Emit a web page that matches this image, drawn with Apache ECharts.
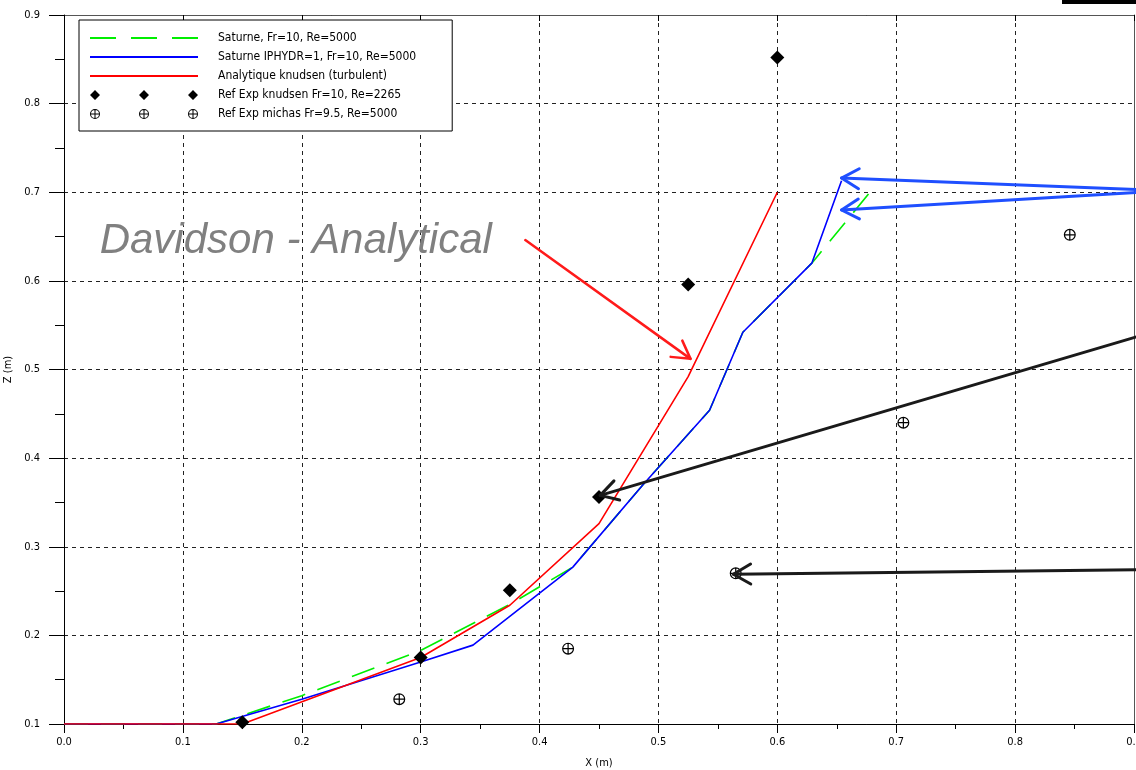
<!DOCTYPE html>
<html>
<head>
<meta charset="utf-8">
<style>
  html, body { margin: 0; padding: 0; background: #fff; }
  #chart { width: 1136px; height: 770px; }
</style>
<script src="https://cdn.jsdelivr.net/npm/echarts@6.0.0/dist/echarts.min.js"></script>
</head>
<body>
<div id="chart"></div>
<script>
// axis ticks
var xTicks = [0, 0.1, 0.2, 0.3, 0.4, 0.5, 0.6, 0.7, 0.8, 0.9]
var zTicks = [0.1, 0.2, 0.3, 0.4, 0.5, 0.6, 0.7, 0.8, 0.9]

// Saturne, Fr=10, Re=5000 (green dashed)
var saturneX = [0, 0.128, 0.2, 0.3, 0.375, 0.428, 0.487, 0.543, 0.571, 0.629, 0.681]
var saturneZ = [0.1, 0.1, 0.132, 0.183, 0.235, 0.277, 0.37, 0.454, 0.542, 0.62, 0.705]

// Saturne IPHYDR=1 (blue)
var iphydrX = [0, 0.128, 0.2, 0.3, 0.344, 0.428, 0.487, 0.543, 0.571, 0.629, 0.654]
var iphydrZ = [0.1, 0.1, 0.128, 0.17, 0.189, 0.277, 0.37, 0.454, 0.542, 0.62, 0.713]

// Analytique knudsen (red)
var analX = [0, 0.15, 0.3, 0.375, 0.45, 0.525, 0.6]
var analZ = [0.1, 0.1, 0.175, 0.234, 0.326, 0.492, 0.7]

// Ref Exp knudsen Fr=10, Re=2265 (diamonds)
var knudsenX = [0.15, 0.3, 0.375, 0.45, 0.525, 0.6]
var knudsenZ = [0.102, 0.175, 0.251, 0.356, 0.596, 0.852]

// Ref Exp michas Fr=9.5, Re=5000 (circle plus)
var michasX = [0.282, 0.424, 0.565, 0.706, 0.846]
var michasZ = [0.128, 0.185, 0.27, 0.44, 0.652]

var names = [
  'Saturne, Fr=10, Re=5000',
  'Saturne IPHYDR=1, Fr=10, Re=5000',
  'Analytique knudsen (turbulent)',
  'Ref Exp knudsen Fr=10, Re=2265',
  'Ref Exp michas Fr=9.5, Re=5000'
]

function pairs(xs, ys) {
  return xs.map(function (x, i) { return [x, ys[i]] })
}

// circle with a cross, as a filled path (ring + bars)
function oplusPath(ox) {
  var c = ox + 5
  return 'M' + c + ',0 A5,5 0 1,1 ' + c + ',10 A5,5 0 1,1 ' + c + ',0 Z ' +
    'M' + c + ',1 A4,4 0 1,0 ' + c + ',9 A4,4 0 1,0 ' + c + ',1 Z ' +
    'M' + (c - 0.5) + ',1 h1 v8 h-1 Z M' + (ox + 1) + ',4.5 h8 v1 h-8 Z '
}
function diamondPath(ox) {
  return 'M' + ox + ',5 L' + (ox + 5) + ',0 L' + (ox + 10) + ',5 L' + (ox + 5) + ',10 Z '
}
var oplusSymbol = 'path://' + oplusPath(0)
var legendDiamonds = 'path://' + diamondPath(0) + diamondPath(49) + diamondPath(98)
var legendOplus = 'path://' + oplusPath(0) + oplusPath(49) + oplusPath(98)
var legendSolid = 'path://M0,0 h108 v2 h-108 Z'
var legendDashed = 'path://M0,0 h26 v2 h-26 Z M41,0 h26 v2 h-26 Z M82,0 h26 v2 h-26 Z'

var font = 'DejaVu Sans Condensed'

var chart = echarts.init(document.getElementById('chart'), null, { renderer: 'canvas' })

var option = {
  backgroundColor: '#fff',
  animation: false,
  grid: { left: 64, right: 2, top: 15, bottom: 46, containLabel: false, outerBoundsMode: 'none' },
  legend: {
    orient: 'vertical',
    left: 79,
    top: 20,
    padding: [12, 36, 11, 11],
    itemWidth: 108,
    itemHeight: 10,
    itemGap: 7,
    borderColor: '#000',
    borderWidth: 1,
    backgroundColor: '#fff',
    textStyle: { fontFamily: font, fontSize: 12, color: '#000', padding: [0, 0, 0, 15] },
    data: [
      { name: names[0], icon: legendDashed },
      { name: names[1], icon: legendSolid },
      { name: names[2], icon: legendSolid },
      { name: names[3], icon: legendDiamonds },
      { name: names[4], icon: legendOplus }
    ]
  },
  xAxis: [{
    type: 'value',
    min: 0, max: 0.9, interval: 0.1,
    name: 'X (m)',
    nameLocation: 'middle',
    nameGap: 34,
    nameTextStyle: { fontFamily: font, fontSize: 11, color: '#000' },
    axisLine: { onZero: false, lineStyle: { color: '#000', width: 1 } },
    axisTick: { length: 9, lineStyle: { color: '#000' } },
    minorTick: { show: true, splitNumber: 2, length: 5, lineStyle: { color: '#000' } },
    axisLabel: {
      margin: 13,
      fontFamily: font, fontSize: 11, color: '#000',
      formatter: function (v) { return v.toFixed(1) }
    },
    splitLine: { show: true, lineStyle: { color: '#222', type: [4, 4], width: 1 } }
  }, {
    type: 'value',
    position: 'top',
    min: 0, max: 0.9, interval: 0.1,
    axisLine: { onZero: false, lineStyle: { color: '#555', width: 1 } },
    axisTick: { inside: true, length: 6, lineStyle: { color: '#000' } },
    axisLabel: { show: false },
    splitLine: { show: false }
  }],
  yAxis: [{
    type: 'value',
    min: 0.1, max: 0.9, interval: 0.1,
    name: 'Z (m)',
    nameLocation: 'middle',
    nameGap: 50,
    nameRotate: 90,
    nameTextStyle: { fontFamily: font, fontSize: 11, color: '#000' },
    axisLine: { onZero: false, lineStyle: { color: '#000', width: 1 } },
    axisTick: { length: 15, lineStyle: { color: '#000' } },
    minorTick: { show: true, splitNumber: 2, length: 9, lineStyle: { color: '#000' } },
    axisLabel: {
      margin: 24,
      fontFamily: font, fontSize: 11, color: '#000',
      formatter: function (v) { return v.toFixed(1) }
    },
    splitLine: { show: true, lineStyle: { color: '#222', type: [4, 4], width: 1 } }
  }, {
    type: 'value',
    position: 'right',
    min: 0.1, max: 0.9, interval: 0.1,
    axisLine: { show: true, onZero: false, lineStyle: { color: '#555', width: 1 } },
    axisTick: { show: false },
    axisLabel: { show: false },
    splitLine: { show: false }
  }],
  series: [
    {
      name: names[0],
      type: 'line',
      data: pairs(saturneX, saturneZ),
      showSymbol: false,
      symbol: 'none',
      z: 2,
      lineStyle: { color: '#00ee00', width: 1.6, type: [24, 13] },
      itemStyle: { color: '#00ee00' }
    },
    {
      name: names[1],
      type: 'line',
      data: pairs(iphydrX, iphydrZ),
      showSymbol: false,
      symbol: 'none',
      z: 3,
      lineStyle: { color: '#0000ff', width: 1.6 },
      itemStyle: { color: '#0000ff' }
    },
    {
      name: names[2],
      type: 'line',
      data: pairs(analX, analZ),
      showSymbol: false,
      symbol: 'none',
      z: 4,
      lineStyle: { color: '#ff0000', width: 1.6 },
      itemStyle: { color: '#ff0000' }
    },
    {
      name: names[3],
      type: 'scatter',
      data: pairs(knudsenX, knudsenZ),
      symbol: 'diamond',
      symbolSize: 14,
      z: 5,
      itemStyle: { color: '#000', opacity: 1 }
    },
    {
      name: names[4],
      type: 'scatter',
      data: pairs(michasX, michasZ),
      symbol: oplusSymbol,
      symbolSize: 12,
      z: 5,
      itemStyle: { color: '#000', opacity: 1 }
    }
  ]
}

chart.setOption(option)

// annotations, anchored in data units
function px(p) { return chart.convertToPixel({ gridIndex: 0 }, p) }
function arrow(from, to, color, width) {
  var a = px(from), b = px(to)
  var ang = Math.atan2(a[1] - b[1], a[0] - b[0])
  var len = 20, spread = Math.PI / 6
  var h1 = [b[0] + len * Math.cos(ang + spread), b[1] + len * Math.sin(ang + spread)]
  var h2 = [b[0] + len * Math.cos(ang - spread), b[1] + len * Math.sin(ang - spread)]
  var st = { stroke: color, lineWidth: width, fill: null, lineCap: 'round', lineJoin: 'round' }
  return [
    { type: 'polyline', z: 100, shape: { points: [a, b] }, style: st },
    { type: 'polyline', z: 100, shape: { points: [h1, b, h2] }, style: st }
  ]
}

var labelPos = px([0.03, 0.645])
var graphics = [
  {
    type: 'text', z: 100,
    x: labelPos[0], y: labelPos[1],
    style: {
      text: 'Davidson - Analytical',
      fill: '#808080',
      font: 'italic 42px "Liberation Sans", Arial, sans-serif',
      textVerticalAlign: 'middle'
    }
  },
  { type: 'rect', z: 100, shape: { x: 1062, y: 0, width: 74, height: 4 }, style: { fill: '#000' } }
]
graphics = graphics
  .concat(arrow([0.388, 0.646], [0.527, 0.512], '#ff1a1a', 2.5))
  .concat(arrow([0.905, 0.703], [0.654, 0.716], '#1f4fff', 3))
  .concat(arrow([0.905, 0.700], [0.654, 0.680], '#1f4fff', 3))
  .concat(arrow([0.905, 0.538], [0.451, 0.358], '#1a1a1a', 3))
  .concat(arrow([0.905, 0.274], [0.563, 0.269], '#1a1a1a', 3))

chart.setOption({ graphic: graphics })
</script>
</body>
</html>
